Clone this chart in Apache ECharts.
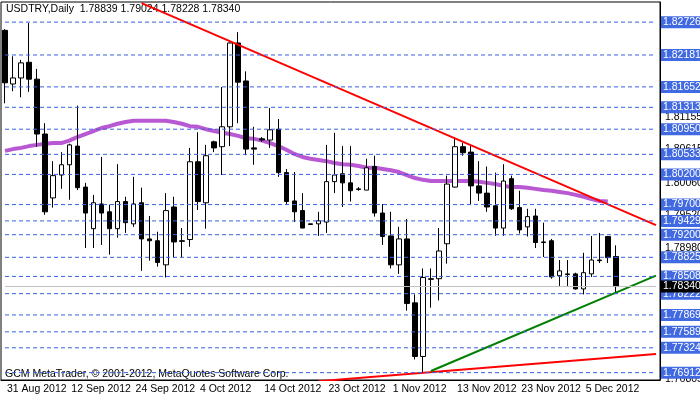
<!DOCTYPE html>
<html><head><meta charset="utf-8">
<script src="https://cdn.jsdelivr.net/npm/echarts@6/dist/echarts.min.js"></script>
<style>html,body{margin:0;padding:0;background:#fff}#c{width:700px;height:402px}</style>
</head><body><div id="c"></div>
<script>
const dateLabels = ['31 Aug 2012','12 Sep 2012','24 Sep 2012','4 Oct 2012','14 Oct 2012','23 Oct 2012','1 Nov 2012','13 Nov 2012','23 Nov 2012','5 Dec 2012'];
const opens = [1.8259,1.8170,1.8180,1.8206,1.8178,1.8087,1.7981,1.8019,1.8036,1.8067,1.7999,1.7930,1.7971,1.7958,1.7930,1.7975,1.7938,1.7973,1.7913,1.7910,1.7870,1.7966,1.7910,1.7912,1.8041,1.7973,1.8074,1.8066,1.8099,1.8238,1.8175,1.8064,1.8079,1.8077,1.8095,1.8023,1.7976,1.7960,1.7938,1.7938,1.7941,1.8008,1.8021,1.8006,1.7996,1.7994,1.8033,1.7956,1.7918,1.7870,1.7913,1.7807,1.7718,1.7847,1.7847,1.7905,1.7999,1.8066,1.8057,1.8001,1.7989,1.7968,1.7931,1.8013,1.7965,1.7933,1.7951,1.7908,1.7910,1.7852,1.7855,1.7855,1.7830,1.7855,1.7878,1.7917,1.78839];
const closes = [1.8172,1.8180,1.8205,1.8178,1.8087,1.7958,1.8018,1.8036,1.8069,1.7998,1.7956,1.7973,1.7956,1.7930,1.7975,1.7940,1.7971,1.7913,1.7910,1.7874,1.7960,1.7908,1.7909,1.8041,1.7975,1.8051,1.8064,1.8099,1.8238,1.8173,1.8062,1.8062,1.8077,1.8094,1.8023,1.7975,1.7958,1.7931,1.7937,1.7943,1.8008,1.8019,1.8006,1.7993,1.7995,1.8031,1.7956,1.7917,1.7870,1.7913,1.7806,1.7718,1.7849,1.7846,1.7893,1.8004,1.8066,1.8056,1.8001,1.7989,1.7966,1.7931,1.8009,1.7963,1.7928,1.7950,1.7907,1.7907,1.7850,1.7860,1.7854,1.7830,1.7857,1.7878,1.7877,1.7882,1.78340];
const lows = [1.8138,1.8158,1.8148,1.8157,1.8066,1.7953,1.7965,1.7996,1.7978,1.7994,1.7898,1.7898,1.7903,1.7887,1.7915,1.7923,1.7933,1.7860,1.7877,1.7867,1.7849,1.7882,1.7882,1.7900,1.7961,1.7930,1.8057,1.8019,1.8067,1.8105,1.8052,1.8036,1.8074,1.8064,1.8016,1.7971,1.7941,1.7931,1.7936,1.7918,1.7923,1.7989,1.7966,1.7975,1.7993,1.7994,1.7950,1.7903,1.7864,1.7855,1.7794,1.7713,1.7690,1.7799,1.7811,1.7872,1.7998,1.8051,1.7971,1.7976,1.7958,1.7918,1.7918,1.7961,1.7922,1.7917,1.7898,1.7883,1.7847,1.7835,1.7835,1.7829,1.7821,1.7850,1.7873,1.7873,1.78228];
const highs = [1.8261,1.8216,1.8210,1.8271,1.8195,1.8105,1.8042,1.8057,1.8071,1.8134,1.8006,1.7986,1.8049,1.7970,1.8037,1.7983,1.8016,1.7998,1.7951,1.7925,1.7989,1.7983,1.7931,1.8064,1.8090,1.8069,1.8076,1.8165,1.8239,1.8256,1.8191,1.8099,1.8082,1.8130,1.8112,1.8029,1.8024,1.7989,1.7938,1.7958,1.8069,1.8089,1.8067,1.8067,1.7999,1.8046,1.8051,1.7971,1.7958,1.7933,1.7946,1.7821,1.7864,1.7864,1.7931,1.8018,1.8081,1.8072,1.8067,1.8042,1.8033,1.8023,1.8037,1.8018,1.7993,1.7963,1.7963,1.7940,1.7913,1.7878,1.7878,1.7857,1.7890,1.7918,1.7923,1.7918,1.79024];
const ma = [1.8059,1.8062,1.8064,1.8067,1.8069,1.8071,1.8072,1.8072,1.8076,1.8082,1.8087,1.8092,1.8097,1.8100,1.8104,1.8107,1.8109,1.8109,1.8109,1.8109,1.8109,1.8107,1.8104,1.8100,1.8099,1.8095,1.8092,1.8089,1.8087,1.8084,1.8080,1.8079,1.8076,1.8072,1.8067,1.8061,1.8054,1.8049,1.8046,1.8044,1.8042,1.8039,1.8037,1.8036,1.8034,1.8031,1.8031,1.8029,1.8027,1.8024,1.8019,1.8014,1.8011,1.8009,1.8009,1.8009,1.8009,1.8009,1.8009,1.8008,1.8006,1.8004,1.8001,1.7999,1.7999,1.7998,1.7996,1.7994,1.7993,1.7991,1.7989,1.7986,1.7983,1.7979,1.7976,1.7975,null];
const resistance = [[17,1.8304],[81,1.7936]];
const support = [[53,1.7694],[81,1.7852]];
const lowerLine = [[39,1.7677],[81,1.7722]];
const levels = [1.82726,1.82181,1.81652,1.81313,1.80950,1.80533,1.80200,1.79700,1.79429,1.79200,1.78825,1.78508,1.78222,1.77869,1.77589,1.77324,1.76912];
const scaleLabels = [1.81155,1.80615,1.80060,1.79520,1.78980,1.76805];
const lastPrice = 1.78340;
const totalSlots = 82;

const cats = []; for (let i=0;i<totalSlots;i++) cats.push(i);
const labelMap = {}; dateLabels.forEach((d,k)=>labelMap[k*8]=d);
const candles = opens.map((o,i)=>[o,closes[i],lows[i],highs[i]]);
const F = 'Liberation Sans, Tahoma, sans-serif';

function levelSeries(v, line, lbl, z){
  return {type:'line',data:[[0,v],[totalSlots-1,v]],symbol:'none',silent:true,z:z,animation:false,
    lineStyle:line,labelLayout:{hideOverlap:false},
    endLabel:Object.assign({show:true,distance:5,formatter:v.toFixed(5),fontFamily:F,fontSize:10.5,padding:[1,1,0,2]},lbl)};
}
const extra = [];
scaleLabels.forEach(v=>extra.push(levelSeries(v,{opacity:0,width:0},{color:'#000',distance:7},5)));
levels.forEach(v=>extra.push(levelSeries(v,{color:'#3a5fe0',type:[4,3],width:1},{color:'#fff',backgroundColor:'#4169e1'},6)));
extra.push(levelSeries(lastPrice,{color:'#c0c0c0',type:'solid',width:1},{color:'#fff',backgroundColor:'#000'},7));

const chart = echarts.init(document.getElementById('c'));
chart.setOption({
  animation:false,
  grid:{left:1,right:40,top:2,bottom:22,show:true,borderColor:'#000',borderWidth:1},
  xAxis:{type:'category',data:cats,boundaryGap:true,
    axisLine:{lineStyle:{color:'#000'}},
    axisTick:{alignWithLabel:true,interval:(i)=>labelMap[i]!==undefined,length:4,lineStyle:{color:'#000'}},
    axisLabel:{interval:0,formatter:(v,i)=>labelMap[i]||'',align:'left',margin:4,color:'#000',fontFamily:F,fontSize:10.5,padding:[0,0,0,2]},
    splitLine:{show:false}},
  yAxis:{type:'value',position:'right',min:1.7679,max:1.8306,axisLine:{show:true,lineStyle:{color:'#000'}},axisLabel:{show:false},axisTick:{show:false},splitLine:{show:false}},
  series:[
    {type:'line',data:ma,symbol:'none',lineStyle:{color:'#b858d2',width:4},silent:true,z:2},
    {type:'candlestick',data:candles,barWidth:5,z:3,
      itemStyle:{color:'#fff',color0:'#000',borderColor:'#000',borderColor0:'#000',borderWidth:1}},
    {type:'line',data:resistance,symbol:'none',lineStyle:{color:'#f00',width:2},silent:true,z:4},
    {type:'line',data:lowerLine,symbol:'none',lineStyle:{color:'#f00',width:2},silent:true,z:4},
    {type:'line',data:support,symbol:'none',lineStyle:{color:'#008000',width:2},silent:true,z:4}
  ].concat(extra),
  graphic:[
    {type:'text',left:6,top:4,style:{text:'USDTRY,Daily  1.78839 1.79024 1.78228 1.78340',font:'10.5px '+F,fill:'#000'}},
    {type:'text',left:5,top:369,style:{text:'GCM MetaTrader, © 2001-2012, MetaQuotes Software Corp.',font:'10.5px '+F,fill:'#000'}}
  ]
});
</script></body></html>
